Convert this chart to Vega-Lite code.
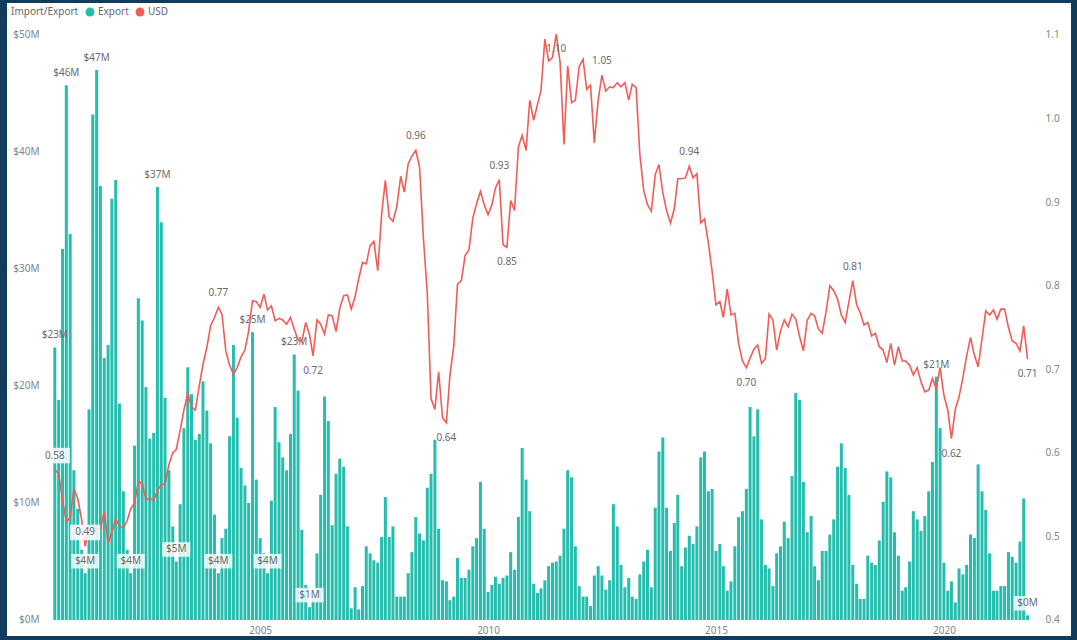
{
"$schema":"https://vega.github.io/schema/vega-lite/v6.json",
"width":1064,"height":633,
"autosize":{"type":"none"},
"padding":{"left":7,"top":3,"right":6,"bottom":4},
"background":"#113c5c",
"config":{
 "view":{"fill":"#ffffff","stroke":null},
 "font":"Noto Sans",
 "axis":{"domain":false,"ticks":false,"grid":false,"labelColor":"#858585","labelFontSize":10,"title":null}
},
"data":{"format":{"parse":{"d":"date"}},"values":[
{"d":"2000-07-01","e":23.3,"u":0.580,"el":"$23M","hi":"0.58"},
{"d":"2000-08-01","e":18.8,"u":0.575},
{"d":"2000-09-01","e":31.7,"u":0.543},
{"d":"2000-10-01","e":45.7,"u":0.518,"el":"$46M"},
{"d":"2000-11-01","e":33.0,"u":0.522},
{"d":"2000-12-01","e":12.8,"u":0.557},
{"d":"2001-01-01","e":9.5,"u":0.545},
{"d":"2001-02-01","e":6.0,"u":0.520},
{"d":"2001-03-01","e":4.0,"u":0.488,"el":"$4M","hi":"0.49"},
{"d":"2001-04-01","e":18.0,"u":0.510},
{"d":"2001-05-01","e":43.2,"u":0.511},
{"d":"2001-06-01","e":47.0,"u":0.509,"el":"$47M"},
{"d":"2001-07-01","e":37.1,"u":0.509},
{"d":"2001-08-01","e":22.4,"u":0.530},
{"d":"2001-09-01","e":23.5,"u":0.492},
{"d":"2001-10-01","e":36.0,"u":0.505},
{"d":"2001-11-01","e":37.6,"u":0.521},
{"d":"2001-12-01","e":18.5,"u":0.512},
{"d":"2002-01-01","e":11.0,"u":0.510},
{"d":"2002-02-01","e":6.0,"u":0.519},
{"d":"2002-03-01","e":4.0,"u":0.533,"el":"$4M"},
{"d":"2002-04-01","e":14.9,"u":0.540},
{"d":"2002-05-01","e":27.5,"u":0.566},
{"d":"2002-06-01","e":25.6,"u":0.563},
{"d":"2002-07-01","e":19.9,"u":0.544},
{"d":"2002-08-01","e":15.5,"u":0.545},
{"d":"2002-09-01","e":16.0,"u":0.543},
{"d":"2002-10-01","e":37.0,"u":0.555,"el":"$37M"},
{"d":"2002-11-01","e":34.0,"u":0.562},
{"d":"2002-12-01","e":19.0,"u":0.563},
{"d":"2003-01-01","e":12.8,"u":0.586},
{"d":"2003-02-01","e":8.0,"u":0.600},
{"d":"2003-03-01","e":5.0,"u":0.604,"el":"$5M"},
{"d":"2003-04-01","e":9.9,"u":0.627},
{"d":"2003-05-01","e":16.4,"u":0.651},
{"d":"2003-06-01","e":21.6,"u":0.671},
{"d":"2003-07-01","e":19.3,"u":0.655},
{"d":"2003-08-01","e":15.4,"u":0.651},
{"d":"2003-09-01","e":15.9,"u":0.680},
{"d":"2003-10-01","e":20.4,"u":0.706},
{"d":"2003-11-01","e":17.9,"u":0.726},
{"d":"2003-12-01","e":15.1,"u":0.752},
{"d":"2004-01-01","e":9.0,"u":0.762},
{"d":"2004-02-01","e":4.0,"u":0.774,"el":"$4M","hi":"0.77"},
{"d":"2004-03-01","e":7.0,"u":0.766},
{"d":"2004-04-01","e":7.8,"u":0.722},
{"d":"2004-05-01","e":15.7,"u":0.705},
{"d":"2004-06-01","e":23.5,"u":0.694},
{"d":"2004-07-01","e":17.3,"u":0.702},
{"d":"2004-08-01","e":13.0,"u":0.715},
{"d":"2004-09-01","e":11.5,"u":0.723},
{"d":"2004-10-01","e":10.0,"u":0.746},
{"d":"2004-11-01","e":24.6,"u":0.782,"el":"$25M"},
{"d":"2004-12-01","e":12.0,"u":0.781},
{"d":"2005-01-01","e":7.0,"u":0.774},
{"d":"2005-02-01","e":5.7,"u":0.790},
{"d":"2005-03-01","e":4.0,"u":0.771,"el":"$4M"},
{"d":"2005-04-01","e":10.2,"u":0.776},
{"d":"2005-05-01","e":18.2,"u":0.758},
{"d":"2005-06-01","e":15.2,"u":0.761},
{"d":"2005-07-01","e":13.9,"u":0.759},
{"d":"2005-08-01","e":12.8,"u":0.754},
{"d":"2005-09-01","e":15.9,"u":0.762},
{"d":"2005-10-01","e":22.7,"u":0.748,"el":"$23M"},
{"d":"2005-11-01","e":19.6,"u":0.735},
{"d":"2005-12-01","e":7.7,"u":0.733},
{"d":"2006-01-01","e":3.0,"u":0.756},
{"d":"2006-02-01","e":1.1,"u":0.741,"el":"$1M"},
{"d":"2006-03-01","e":2.0,"u":0.716,"lo":"0.72"},
{"d":"2006-04-01","e":5.7,"u":0.759},
{"d":"2006-05-01","e":10.7,"u":0.754},
{"d":"2006-06-01","e":19.1,"u":0.742},
{"d":"2006-07-01","e":17.0,"u":0.765},
{"d":"2006-08-01","e":8.1,"u":0.764},
{"d":"2006-09-01","e":12.5,"u":0.745},
{"d":"2006-10-01","e":13.8,"u":0.773},
{"d":"2006-11-01","e":13.1,"u":0.788},
{"d":"2006-12-01","e":8.0,"u":0.789},
{"d":"2007-01-01","e":1.0,"u":0.772},
{"d":"2007-02-01","e":2.8,"u":0.787},
{"d":"2007-03-01","e":0.9,"u":0.808},
{"d":"2007-04-01","e":2.9,"u":0.828},
{"d":"2007-05-01","e":6.3,"u":0.826},
{"d":"2007-06-01","e":5.7,"u":0.848},
{"d":"2007-07-01","e":5.1,"u":0.853},
{"d":"2007-08-01","e":4.9,"u":0.818},
{"d":"2007-09-01","e":7.1,"u":0.885},
{"d":"2007-10-01","e":10.5,"u":0.926},
{"d":"2007-11-01","e":7.1,"u":0.882},
{"d":"2007-12-01","e":8.0,"u":0.877},
{"d":"2008-01-01","e":2.0,"u":0.895},
{"d":"2008-02-01","e":2.0,"u":0.931},
{"d":"2008-03-01","e":2.0,"u":0.912},
{"d":"2008-04-01","e":4.0,"u":0.946},
{"d":"2008-05-01","e":5.8,"u":0.955},
{"d":"2008-06-01","e":8.8,"u":0.962,"hi":"0.96"},
{"d":"2008-07-01","e":7.4,"u":0.942},
{"d":"2008-08-01","e":6.8,"u":0.857},
{"d":"2008-09-01","e":11.3,"u":0.791},
{"d":"2008-10-01","e":12.5,"u":0.665},
{"d":"2008-11-01","e":15.4,"u":0.652},
{"d":"2008-12-01","e":7.8,"u":0.697},
{"d":"2009-01-01","e":3.4,"u":0.642},
{"d":"2009-02-01","e":3.3,"u":0.636,"lo":"0.64"},
{"d":"2009-03-01","e":1.7,"u":0.692},
{"d":"2009-04-01","e":2.0,"u":0.728},
{"d":"2009-05-01","e":5.3,"u":0.802},
{"d":"2009-06-01","e":3.6,"u":0.806},
{"d":"2009-07-01","e":3.6,"u":0.836},
{"d":"2009-08-01","e":4.3,"u":0.843},
{"d":"2009-09-01","e":6.3,"u":0.881},
{"d":"2009-10-01","e":7.0,"u":0.898},
{"d":"2009-11-01","e":11.8,"u":0.913},
{"d":"2009-12-01","e":7.8,"u":0.897},
{"d":"2010-01-01","e":2.4,"u":0.885},
{"d":"2010-02-01","e":3.0,"u":0.897},
{"d":"2010-03-01","e":3.7,"u":0.917},
{"d":"2010-04-01","e":3.1,"u":0.927,"hi":"0.93"},
{"d":"2010-05-01","e":3.6,"u":0.849},
{"d":"2010-06-01","e":3.8,"u":0.846,"lo":"0.85"},
{"d":"2010-07-01","e":5.8,"u":0.902},
{"d":"2010-08-01","e":4.3,"u":0.890},
{"d":"2010-09-01","e":8.8,"u":0.966},
{"d":"2010-10-01","e":14.7,"u":0.980},
{"d":"2010-11-01","e":12.0,"u":0.962},
{"d":"2010-12-01","e":9.3,"u":1.022},
{"d":"2011-01-01","e":3.1,"u":0.998},
{"d":"2011-02-01","e":2.3,"u":1.017},
{"d":"2011-03-01","e":2.7,"u":1.034},
{"d":"2011-04-01","e":3.4,"u":1.095},
{"d":"2011-05-01","e":4.6,"u":1.069},
{"d":"2011-06-01","e":4.9,"u":1.073},
{"d":"2011-07-01","e":5.0,"u":1.101,"lo":"1.10"},
{"d":"2011-08-01","e":5.5,"u":1.067},
{"d":"2011-09-01","e":7.8,"u":0.969},
{"d":"2011-10-01","e":12.8,"u":1.063},
{"d":"2011-11-01","e":12.2,"u":1.019},
{"d":"2011-12-01","e":6.3,"u":1.022},
{"d":"2012-01-01","e":2.9,"u":1.062},
{"d":"2012-02-01","e":2.0,"u":1.071},
{"d":"2012-03-01","e":2.0,"u":1.035},
{"d":"2012-04-01","e":1.2,"u":1.040},
{"d":"2012-05-01","e":3.8,"u":0.971},
{"d":"2012-06-01","e":4.6,"u":1.022},
{"d":"2012-07-01","e":3.8,"u":1.052,"hi":"1.05"},
{"d":"2012-08-01","e":2.6,"u":1.033},
{"d":"2012-09-01","e":3.4,"u":1.038},
{"d":"2012-10-01","e":9.9,"u":1.037},
{"d":"2012-11-01","e":8.0,"u":1.043},
{"d":"2012-12-01","e":4.7,"u":1.038},
{"d":"2013-01-01","e":2.8,"u":1.043},
{"d":"2013-02-01","e":3.6,"u":1.022},
{"d":"2013-03-01","e":2.0,"u":1.041},
{"d":"2013-04-01","e":1.8,"u":1.037},
{"d":"2013-05-01","e":3.9,"u":0.957},
{"d":"2013-06-01","e":5.0,"u":0.914},
{"d":"2013-07-01","e":6.0,"u":0.897},
{"d":"2013-08-01","e":2.8,"u":0.889},
{"d":"2013-09-01","e":9.6,"u":0.933},
{"d":"2013-10-01","e":14.4,"u":0.945},
{"d":"2013-11-01","e":15.6,"u":0.911},
{"d":"2013-12-01","e":9.6,"u":0.890},
{"d":"2014-01-01","e":5.9,"u":0.875},
{"d":"2014-02-01","e":8.3,"u":0.892},
{"d":"2014-03-01","e":10.7,"u":0.928},
{"d":"2014-04-01","e":4.6,"u":0.928},
{"d":"2014-05-01","e":6.2,"u":0.929},
{"d":"2014-06-01","e":7.2,"u":0.943,"hi":"0.94"},
{"d":"2014-07-01","e":6.5,"u":0.929},
{"d":"2014-08-01","e":8.0,"u":0.934},
{"d":"2014-09-01","e":13.9,"u":0.875},
{"d":"2014-10-01","e":14.4,"u":0.880},
{"d":"2014-11-01","e":11.0,"u":0.851},
{"d":"2014-12-01","e":11.2,"u":0.817},
{"d":"2015-01-01","e":5.9,"u":0.777},
{"d":"2015-02-01","e":6.5,"u":0.781},
{"d":"2015-03-01","e":4.6,"u":0.762},
{"d":"2015-04-01","e":2.5,"u":0.796},
{"d":"2015-05-01","e":3.3,"u":0.765},
{"d":"2015-06-01","e":6.3,"u":0.767},
{"d":"2015-07-01","e":8.8,"u":0.731},
{"d":"2015-08-01","e":9.3,"u":0.710},
{"d":"2015-09-01","e":11.2,"u":0.702,"lo":"0.70"},
{"d":"2015-10-01","e":18.2,"u":0.713},
{"d":"2015-11-01","e":15.7,"u":0.724},
{"d":"2015-12-01","e":18.0,"u":0.729},
{"d":"2016-01-01","e":8.6,"u":0.707},
{"d":"2016-02-01","e":4.7,"u":0.713},
{"d":"2016-03-01","e":4.4,"u":0.766},
{"d":"2016-04-01","e":2.9,"u":0.759},
{"d":"2016-05-01","e":5.7,"u":0.723},
{"d":"2016-06-01","e":6.3,"u":0.746},
{"d":"2016-07-01","e":8.4,"u":0.759},
{"d":"2016-08-01","e":7.0,"u":0.751},
{"d":"2016-09-01","e":12.3,"u":0.766},
{"d":"2016-10-01","e":19.4,"u":0.760},
{"d":"2016-11-01","e":18.8,"u":0.739},
{"d":"2016-12-01","e":11.8,"u":0.722},
{"d":"2017-01-01","e":7.5,"u":0.759},
{"d":"2017-02-01","e":8.9,"u":0.767},
{"d":"2017-03-01","e":4.6,"u":0.764},
{"d":"2017-04-01","e":3.4,"u":0.748},
{"d":"2017-05-01","e":5.9,"u":0.743},
{"d":"2017-06-01","e":5.9,"u":0.769},
{"d":"2017-07-01","e":7.3,"u":0.800},
{"d":"2017-08-01","e":8.6,"u":0.794},
{"d":"2017-09-01","e":13.1,"u":0.784},
{"d":"2017-10-01","e":15.1,"u":0.765},
{"d":"2017-11-01","e":13.0,"u":0.756},
{"d":"2017-12-01","e":10.7,"u":0.781},
{"d":"2018-01-01","e":4.7,"u":0.806,"hi":"0.81"},
{"d":"2018-02-01","e":3.1,"u":0.777},
{"d":"2018-03-01","e":1.8,"u":0.768},
{"d":"2018-04-01","e":1.8,"u":0.753},
{"d":"2018-05-01","e":5.5,"u":0.756},
{"d":"2018-06-01","e":4.9,"u":0.740},
{"d":"2018-07-01","e":4.7,"u":0.743},
{"d":"2018-08-01","e":6.8,"u":0.727},
{"d":"2018-09-01","e":10.1,"u":0.723},
{"d":"2018-10-01","e":12.7,"u":0.708},
{"d":"2018-11-01","e":12.2,"u":0.731},
{"d":"2018-12-01","e":7.5,"u":0.705},
{"d":"2019-01-01","e":5.5,"u":0.727},
{"d":"2019-02-01","e":2.5,"u":0.710},
{"d":"2019-03-01","e":2.8,"u":0.710},
{"d":"2019-04-01","e":5.0,"u":0.705},
{"d":"2019-05-01","e":9.3,"u":0.693},
{"d":"2019-06-01","e":8.6,"u":0.702},
{"d":"2019-07-01","e":7.6,"u":0.685},
{"d":"2019-08-01","e":8.9,"u":0.673},
{"d":"2019-09-01","e":11.0,"u":0.675},
{"d":"2019-10-01","e":13.5,"u":0.689},
{"d":"2019-11-01","e":20.8,"u":0.677,"el":"$21M"},
{"d":"2019-12-01","e":16.4,"u":0.702},
{"d":"2020-01-01","e":4.9,"u":0.669},
{"d":"2020-02-01","e":2.5,"u":0.651},
{"d":"2020-03-01","e":3.3,"u":0.617,"lo":"0.62"},
{"d":"2020-04-01","e":1.5,"u":0.652},
{"d":"2020-05-01","e":4.4,"u":0.667},
{"d":"2020-06-01","e":3.9,"u":0.690},
{"d":"2020-07-01","e":4.7,"u":0.716},
{"d":"2020-08-01","e":7.3,"u":0.738},
{"d":"2020-09-01","e":7.0,"u":0.717},
{"d":"2020-10-01","e":13.3,"u":0.703},
{"d":"2020-11-01","e":11.0,"u":0.736},
{"d":"2020-12-01","e":9.4,"u":0.770},
{"d":"2021-01-01","e":5.7,"u":0.765},
{"d":"2021-02-01","e":2.5,"u":0.771},
{"d":"2021-03-01","e":2.5,"u":0.760},
{"d":"2021-04-01","e":2.9,"u":0.772},
{"d":"2021-05-01","e":2.9,"u":0.772},
{"d":"2021-06-01","e":5.8,"u":0.750},
{"d":"2021-07-01","e":5.4,"u":0.734},
{"d":"2021-08-01","e":4.9,"u":0.731},
{"d":"2021-09-01","e":6.7,"u":0.722},
{"d":"2021-10-01","e":10.4,"u":0.752},
{"d":"2021-11-01","e":0.4,"u":0.712,"el":"$0M","lo":"0.71"}
]},
"encoding":{
 "x":{"field":"d","type":"temporal",
  "scale":{"type":"utc","domain":[{"year":1999,"month":7,"date":24,"utc":true},{"year":2022,"month":9,"date":5,"utc":true}]},
  "axis":{"orient":"bottom","offset":-14,"labelPadding":3,"format":"%Y","formatType":"utc",
   "values":[{"year":2005,"month":1,"date":1,"utc":true},{"year":2010,"month":1,"date":1,"utc":true},{"year":2015,"month":1,"date":1,"utc":true},{"year":2020,"month":1,"date":1,"utc":true}]}}
},
"layer":[
 {"layer":[
  {"data":{"values":[{"g":10},{"g":20},{"g":30},{"g":40},{"g":50}]},
   "mark":{"type":"rule","color":"#ebebeb","strokeWidth":1},
   "encoding":{
    "x":{"datum":{"year":2000,"month":6,"date":20,"utc":true},"type":"temporal"},
    "x2":{"datum":{"year":2021,"month":12,"date":12,"utc":true}},
    "y":{"field":"g","type":"quantitative","scale":{"domain":[-1.368,52.735],"nice":false,"zero":false}}}},
  {"mark":{"type":"bar","width":3},
   "encoding":{
    "y":{"field":"e","type":"quantitative","scale":{"domain":[-1.368,52.735],"nice":false,"zero":false},
     "axis":{"orient":"left","offset":-35,"labelPadding":3,"values":[0,10,20,30,40,50],"labelExpr":"'$' + datum.value + 'M'"}},
    "y2":{"datum":0},
    "color":{"datum":"Export","type":"nominal",
     "scale":{"domain":["Export","USD"],"range":["#25bdad","#f25c57"]},
     "legend":{"title":"Import/Export","orient":"top-left","direction":"horizontal","titleOrient":"left","offset":4,"padding":0,
      "symbolType":"circle","symbolSize":80,"labelFontSize":10,"titleFontSize":10,"titleFontWeight":"normal",
      "titleColor":"#666666","labelColor":"#666666","titlePadding":6,"columnPadding":6,"labelOffset":3,
      "encode":{"symbols":{"update":{"fill":{"scale":"color","field":"value"},"strokeWidth":{"value":0},"opacity":{"value":1}}}}}}}},
  {"transform":[{"filter":"datum.el != null && datum.e < 6"}],
   "mark":{"type":"point","shape":"M-1,-0.52L1,-0.52L1,0.52L-1,0.52Z","size":784,"filled":true,"color":"#ffffff","opacity":0.82,"strokeWidth":0,"yOffset":-12},
   "encoding":{"y":{"field":"e","type":"quantitative","scale":{"domain":[-1.368,52.735],"nice":false,"zero":false}}}},
  {"transform":[{"filter":"datum.el != null"}],
   "mark":{"type":"text","fontSize":10,"color":"#6b6b6b","baseline":"middle","dy":-12},
   "encoding":{"y":{"field":"e","type":"quantitative","scale":{"domain":[-1.368,52.735],"nice":false,"zero":false}},"text":{"field":"el"}}}
 ]},
 {"layer":[
  {"mark":{"type":"line","strokeWidth":1.6},
   "encoding":{
    "y":{"field":"u","type":"quantitative","scale":{"domain":[0.38085,1.13829],"nice":false,"zero":false},
     "axis":{"orient":"right","offset":-30,"labelPadding":4,"values":[0.4,0.5,0.6,0.7,0.8,0.9,1.0,1.1],"format":".1f"}},
    "color":{"datum":"USD","type":"nominal"}}},
  {"transform":[{"filter":"datum.hi != null && datum.u < 0.6"}],
   "mark":{"type":"point","shape":"M-1,-0.52L1,-0.52L1,0.52L-1,0.52Z","size":900,"filled":true,"color":"#ffffff","opacity":0.85,"strokeWidth":0,"yOffset":-14},
   "encoding":{"y":{"field":"u","type":"quantitative","scale":{"domain":[0.38085,1.13829],"nice":false,"zero":false}}}},
  {"transform":[{"filter":"datum.hi != null"}],
   "mark":{"type":"text","fontSize":10,"color":"#6b6b6b","baseline":"middle","dy":-14},
   "encoding":{"y":{"field":"u","type":"quantitative","scale":{"domain":[0.38085,1.13829],"nice":false,"zero":false}},"text":{"field":"hi"}}},
  {"transform":[{"filter":"datum.lo != null"}],
   "mark":{"type":"text","fontSize":10,"color":"#6b6b6b","baseline":"middle","dy":15},
   "encoding":{"y":{"field":"u","type":"quantitative","scale":{"domain":[0.38085,1.13829],"nice":false,"zero":false}},"text":{"field":"lo"}}}
 ]}
],
"resolve":{"scale":{"y":"independent"}}
}
